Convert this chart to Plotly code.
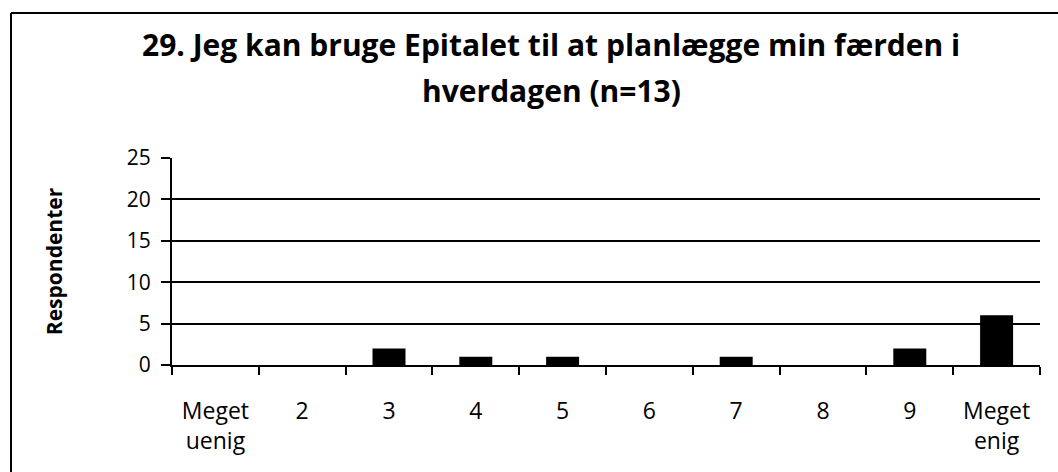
import plotly.graph_objects as go

categories = ["Meget<br>uenig", "2", "3", "4", "5", "6", "7", "8", "9", "Meget<br>enig"]
respondents = [0, 0, 2, 1, 1, 0, 1, 0, 2, 6]
y_ticks = [0, 5, 10, 15, 20, 25]

title_lines = ["29. Jeg kan bruge Epitalet til at planlægge min færden i",
               "hverdagen (n=13)"]

FONT = "Open Sans"

W, H = 1058, 472
L, R, T, B = 172, 18, 158, 107
PW, PH = W - L - R, H - T - B


def px_x(px):
    """Horizontal pixel -> x-domain fraction."""
    return (px - L) / PW


def px_y(py):
    """Vertical pixel -> paper fraction."""
    return 1 + (T - py) / PH


fig = go.Figure(
    go.Bar(
        x=categories,
        y=respondents,
        marker=dict(color="black", line=dict(width=0)),
        width=0.38,
    )
)

fig.update_layout(
    width=W,
    height=H,
    margin=dict(l=L, r=R, t=T, b=B),
    paper_bgcolor="white",
    plot_bgcolor="white",
    showlegend=False,
    font=dict(family=FONT, color="black"),
)

fig.update_xaxes(
    type="category",
    showline=True,
    linecolor="black",
    linewidth=2,
    ticks="outside",
    tickson="boundaries",
    ticklen=8,
    tickwidth=1.5,
    tickcolor="black",
    showgrid=False,
    tickfont=dict(size=23, family=FONT),
    ticklabelstandoff=24,
)

fig.update_yaxes(
    range=[0, 25],
    tickvals=y_ticks,
    showline=True,
    linecolor="black",
    linewidth=2,
    ticks="outside",
    ticklen=9,
    tickwidth=1.5,
    tickcolor="black",
    showgrid=True,
    gridcolor="black",
    gridwidth=1.5,
    zeroline=False,
    tickfont=dict(size=21, family=FONT),
    ticklabelstandoff=6,
    title=dict(text="<b>Respondenter</b>", font=dict(size=21, family=FONT), standoff=58),
)

# Two-line title placed as separate annotations for wider line spacing
for line, ypix in zip(title_lines, [44, 91]):
    fig.add_annotation(
        text=f"<b>{line}</b>",
        xref="x domain",
        yref="paper",
        x=px_x(551),
        y=px_y(ypix),
        xanchor="center",
        yanchor="middle",
        showarrow=False,
        font=dict(size=30, family=FONT, color="black"),
    )

# Outer frame lines along the top and left edges
fig.add_shape(type="line", xref="x domain", yref="paper",
              x0=px_x(11), x1=px_x(W), y0=px_y(13), y1=px_y(13),
              line=dict(color="black", width=2))
fig.add_shape(type="line", xref="x domain", yref="paper",
              x0=px_x(11), x1=px_x(11), y0=px_y(13), y1=px_y(H),
              line=dict(color="black", width=2))

fig.write_html("out.html")
